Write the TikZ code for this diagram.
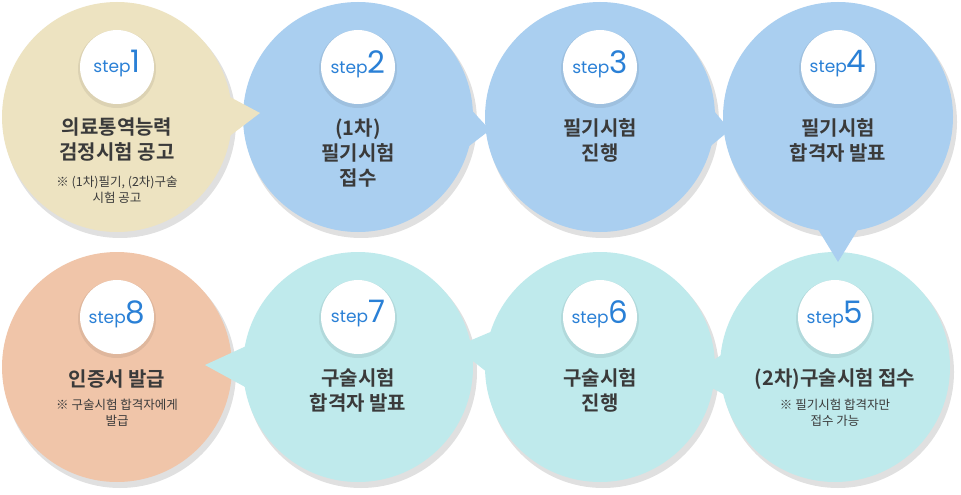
\documentclass[tikz,border=0pt]{standalone}
\usepackage{fontspec}
\newfontfamily\kr{Noto Sans CJK KR}
\newfontfamily\krb{Noto Sans CJK KR Bold}
\setsansfont{Poppins}
\usetikzlibrary{calc}
\definecolor{tanbg}{HTML}{EDE3C1}
\definecolor{bluebg}{HTML}{AACFF0}
\definecolor{cyanbg}{HTML}{BFEAEC}
\definecolor{salmonbg}{HTML}{F0C5A9}
\definecolor{stepblue}{HTML}{2A80D6}
\definecolor{txt}{HTML}{3A3A3A}
% ball with a pointer: name, center, colour, base angle, tip
\newcommand{\stepball}[5]{%
  \coordinate (#1) at #2;
  \fill[black,opacity=.12] ($(#1)+(3,5)$) circle (116);
  \fill[#3] ($(#1)+(#4+12:110)$) -- #5 -- ($(#1)+(#4-12:110)$) -- cycle;
  \fill[#3] (#1) circle (115);
  \fill[black,opacity=.07] ($(#1)+(0,-48)$) circle (39);
  \fill[white] ($(#1)+(0,-50)$) circle (37);
}
\tikzset{
  title/.style={font=\krb\fontsize{20}{25}\selectfont,text=txt,align=center},
  note/.style={font=\kr\fontsize{12.5}{16}\selectfont,text=txt,align=center},
  steplbl/.style={font=\sffamily\fontsize{17}{17}\selectfont,text=stepblue}
}
\newcommand{\stepnum}[1]{step{\fontsize{31}{31}\selectfont #1}}
\begin{document}
\begin{tikzpicture}[x=1pt,y=-1pt]
  \useasboundingbox (0,0) rectangle (961,495);
  \fill[white] (0,0) rectangle (961,495);

  \stepball{s8}{(117,367)}{salmonbg}{0}{(117,367)}
  \stepball{s7}{(358,367)}{cyanbg}{180}{(205,365)}
  \stepball{s6}{(600,367)}{cyanbg}{188}{(455,347)}
  \stepball{s5}{(835,367)}{cyanbg}{176}{(690,376)}
  \stepball{s4}{(838,117)}{bluebg}{90}{(838,262)}
  \stepball{s3}{(600,117)}{bluebg}{6}{(730,130)}
  \stepball{s2}{(358,117)}{bluebg}{6}{(490,130)}
  \stepball{s1}{(117,117)}{tanbg}{0}{(260,113)}

  \node[steplbl] (l1) at ($(s1)+(0,-53)$) {\stepnum{1}};
  \node[steplbl] (l2) at ($(s2)+(0,-53)$) {\stepnum{2}};
  \node[steplbl] (l3) at ($(s3)+(0,-53)$) {\stepnum{3}};
  \node[steplbl] (l4) at ($(s4)+(0,-53)$) {\stepnum{4}};
  \node[steplbl] (l5) at ($(s5)+(0,-53)$) {\stepnum{5}};
  \node[steplbl] (l6) at ($(s6)+(0,-53)$) {\stepnum{6}};
  \node[steplbl] (l7) at ($(s7)+(0,-53)$) {\stepnum{7}};
  \node[steplbl] (l8) at ($(s8)+(0,-53)$) {\stepnum{8}};

  \node[title] (t1) at (117,140) {의료통역능력\\검정시험 공고};
  \node[note] (n1) at (117,190) {※ (1차)필기, (2차)구술\\시험 공고};
  \node[title] (t2) at (358,153) {(1차)\\필기시험\\접수};
  \node[title] (t3) at (600,140) {필기시험\\진행};
  \node[title] (t4) at (838,140) {필기시험\\합격자 발표};
  \node[title] (t5) at (835,379) {(2차)구술시험 접수};
  \node[note] (n5) at (835,413) {※ 필기시험 합격자만\\접수 가능};
  \node[title] (t6) at (600,390) {구술시험\\진행};
  \node[title] (t7) at (358,390) {구술시험\\합격자 발표};
  \node[title] (t8) at (117,379) {인증서 발급};
  \node[note] (n8) at (117,413) {※ 구술시험 합격자에게\\발급};
\end{tikzpicture}
\end{document}
